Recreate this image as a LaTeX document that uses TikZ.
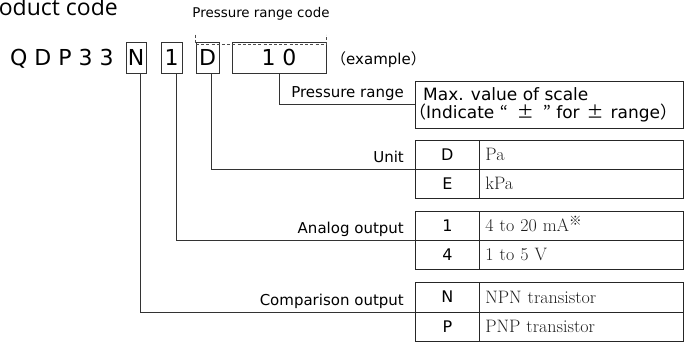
\documentclass[tikz,border=0pt]{standalone}
\usepackage{fontspec}
\setsansfont{DejaVu Sans}
\renewcommand{\familydefault}{\sfdefault}
\newfontfamily\cjk{Noto Sans CJK JP}
\newfontfamily\opensans{Open Sans}
\tikzset{
  ln/.style={draw=black!80, line width=0.8pt},
  dashln/.style={draw=black!70, line width=0.8pt, dash pattern=on 3pt off 2.2pt},
  codebox/.style={draw=black!80, line width=0.8pt, inner sep=0pt, minimum height=31pt,
    font=\fontsize{22}{26}\selectfont, text height=16pt, text depth=0pt},
  keycell/.style={draw=black!85, line width=0.8pt, anchor=north west, minimum width=64pt,
    inner sep=0pt, font=\fontsize{16}{19}\selectfont, text height=11.5pt, text depth=0pt},
  valcell/.style={draw=black!85, line width=0.8pt, anchor=north west, minimum width=204pt,
    text width=192pt, align=left, inner xsep=6pt, inner ysep=0pt, text=black!88,
    font=\rmfamily\fontsize{18}{21}\selectfont, text height=12pt, text depth=0pt},
  lbl/.style={anchor=base east, inner sep=0pt, font=\fontsize{15}{18}\selectfont},
  txt/.style={anchor=base west, inner sep=0pt},
}
\begin{document}
\begin{tikzpicture}[x=1pt, y=-1pt]
\useasboundingbox (0,0) rectangle (684,344);

% title (cut by the page edge, as in the reference)
\node[anchor=base east, inner sep=0pt, font=\opensans\fontsize{23}{27}\selectfont] (title) at (118,16) {Product code};

% pressure range code
\node[anchor=base, inner sep=0pt, font=\fontsize{13.4}{16}\selectfont] (prc) at (261,17.5) {Pressure range code};

% code line
\node[txt, font=\fontsize{22}{26}\selectfont] (qdp) at (10,65.5) {Q D P 3 3};
\node[codebox, minimum width=20pt] (bN) at (136,57.5) {N};
\node[codebox, minimum width=21pt] (b1) at (171.5,57.5) {1};
\node[codebox, minimum width=23pt] (bD) at (207.5,57.5) {D};
\node[codebox, minimum width=94pt] (b10) at (279,57.5) {1 0};
\node[txt, font=\fontsize{15}{18}\selectfont] (ex) at (331,65) {{\cjk （}example{\cjk ）}};

\draw[dashln] ([yshift=7pt]bD.north west) -- ++(0,10) -| ([yshift=7pt]b10.north east);

% pressure range table
\node[draw=black!85, line width=0.8pt, anchor=north west, minimum width=268pt, minimum height=47pt, inner sep=0pt] (pr) at (415,81) {};
\node[txt, font=\fontsize{17}{20}\selectfont] (pr1) at (423,101) {Max. value of scale};
\node[txt, font=\fontsize{17}{20}\selectfont] (pr2) at (409,119) {{\cjk （}Indicate {\cjk “}\hspace{9pt}{\cjk ±}\hspace{9pt}{\cjk ”} for\hspace{7pt}{\cjk ±}\hspace{7pt}range{\cjk ）}};

% unit table
\node[keycell, minimum height=29pt] (uD) at (415,140) {D};
\node[valcell, minimum height=29pt] (uDv) at (479,140) {Pa};
\node[keycell, minimum height=29pt] (uE) at (415,169) {E};
\node[valcell, minimum height=29pt] (uEv) at (479,169) {kPa};

% analog output table
\node[keycell, minimum height=29pt] (a1) at (415,211) {1};
\node[valcell, minimum height=29pt] (a1v) at (479,211) {4 to 20 mA\textsuperscript{\cjk ※}};
\node[keycell, minimum height=29pt] (a4) at (415,240) {4};
\node[valcell, minimum height=29pt] (a4v) at (479,240) {1 to 5 V};

% comparison output table
\node[keycell, minimum height=29.5pt] (cN) at (415,282) {N};
\node[valcell, minimum height=29.5pt] (cNv) at (479,282) {NPN transistor};
\node[keycell, minimum height=29.5pt] (cP) at (415,311.5) {P};
\node[valcell, minimum height=29.5pt] (cPv) at (479,311.5) {PNP transistor};

% labels
\node[lbl] (lpr) at (404,98) {Pressure range};
\node[lbl] (lun) at (404,163) {Unit};
\node[lbl] (lan) at (404,234) {Analog output};
\node[lbl] (lco) at (404,305) {Comparison output};

% connectors
\draw[ln] (b10.south) |- (pr.west);
\draw[ln] ([xshift=3.5pt]bD.south) |- (uD.south west);
\draw[ln] ([xshift=4.5pt]b1.south) |- (a1.south west);
\draw[ln] ([xshift=4pt]bN.south) |- (cN.south west);
\end{tikzpicture}
\end{document}
